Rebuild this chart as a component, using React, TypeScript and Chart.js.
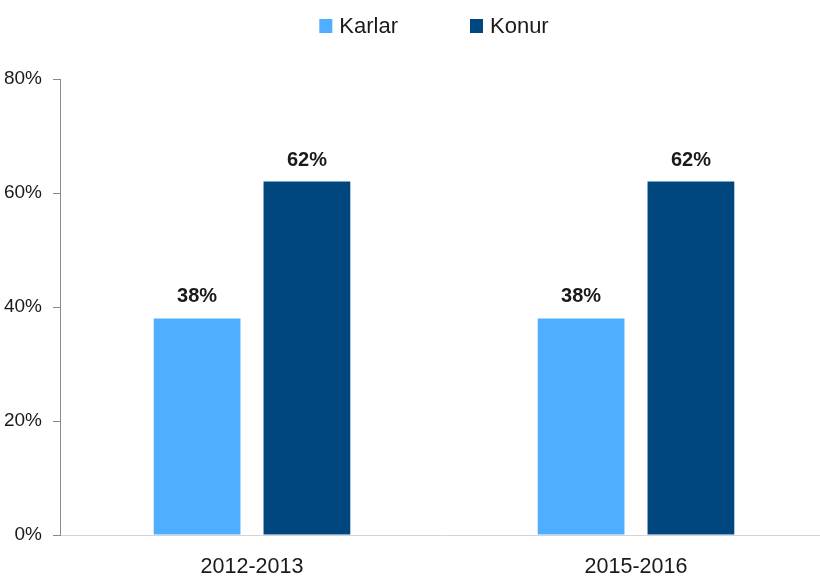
import React, { useEffect, useRef } from "react";
import { Chart, registerables } from "chart.js";

Chart.register(...registerables);

const categories = ["2012-2013", "2015-2016"];
const seriesNames = ["Karlar", "Konur"];
const karlarData = [38, 38];
const konurData = [62, 62];
const yTicks = [0, 20, 40, 60, 80];

const COLORS = ["#4faeff", "#00467f"];
const FONT = "'Liberation Sans', Arial, sans-serif";

const legendPlugin = {
  id: "customLegend",
  afterDraw(chart: any) {
    const ctx = chart.ctx;
    ctx.save();
    ctx.font = `22px ${FONT}`;
    const box = 13;
    const gapText = 7;
    const gapItem = 72;
    const widths = seriesNames.map((n) => ctx.measureText(n).width);
    const total = widths.reduce((a, w) => a + box + gapText + w, 0) + gapItem * (seriesNames.length - 1);
    let x = 434 - total / 2;
    const cy = 26;
    seriesNames.forEach((n, i) => {
      ctx.fillStyle = COLORS[i];
      ctx.fillRect(x, cy - 7, box, 14);
      ctx.fillStyle = "#1a1a1a";
      ctx.textBaseline = "middle";
      ctx.textAlign = "left";
      ctx.fillText(n, x + box + gapText, cy + 1);
      x += box + gapText + widths[i] + gapItem;
    });
    ctx.restore();
  },
};

const labelPlugin = {
  id: "barLabels",
  afterDatasetsDraw(chart: any) {
    const ctx = chart.ctx;
    ctx.save();
    ctx.font = `bold 20px ${FONT}`;
    ctx.fillStyle = "#1a1a1a";
    ctx.textAlign = "center";
    ctx.textBaseline = "alphabetic";
    chart.data.datasets.forEach((ds: any, di: number) => {
      const meta = chart.getDatasetMeta(di);
      meta.data.forEach((bar: any, i: number) => {
        ctx.fillText(`${ds.data[i]}%`, bar.x, bar.y - 16);
      });
    });
    ctx.restore();
  },
};

export default function App() {
  const ref = useRef<HTMLCanvasElement>(null);
  useEffect(() => {
    document.body.style.margin = "0";
    const chart = new Chart(ref.current!, {
      type: "bar",
      data: {
        labels: categories,
        datasets: [
          { label: seriesNames[0], data: karlarData, backgroundColor: COLORS[0] },
          { label: seriesNames[1], data: konurData, backgroundColor: COLORS[1] },
        ],
      },
      options: {
        responsive: false,
        animation: false,
        layout: { padding: { top: 79, left: 0, right: 0, bottom: 0 } },
        plugins: { legend: { display: false }, tooltip: { enabled: false } },
        datasets: { bar: { categoryPercentage: 0.572, barPercentage: 0.79 } },
        scales: {
          x: {
            grid: { display: false, drawTicks: false },
            border: { display: true, color: "#d4d4d4", width: 1 },
            ticks: { color: "#1a1a1a", font: { family: FONT, size: 21.5 }, padding: 19 },
            afterFit(scale: any) {
              scale.height = 45;
            },
          },
          y: {
            min: 0,
            max: 80,
            afterBuildTicks(scale: any) {
              scale.ticks = yTicks.map((v) => ({ value: v }));
            },
            grid: { drawOnChartArea: false, drawTicks: true, tickLength: 7, color: "#8a8a8a" },
            border: { display: true, color: "#8a8a8a", width: 1 },
            ticks: {
              color: "#1a1a1a",
              font: { family: FONT, size: 19 },
              padding: 11,
              callback: (v: any) => `${v}%`,
            },
            afterFit(scale: any) {
              scale.width = 60;
            },
          },
        },
      },
      plugins: [legendPlugin, labelPlugin],
    });
    return () => chart.destroy();
  }, []);
  return (
    <div style={{ position: "absolute", left: 0, top: 0, width: 820, height: 580, overflow: "hidden", background: "#fff" }}>
      <canvas ref={ref} width={828} height={580} />
    </div>
  );
}
